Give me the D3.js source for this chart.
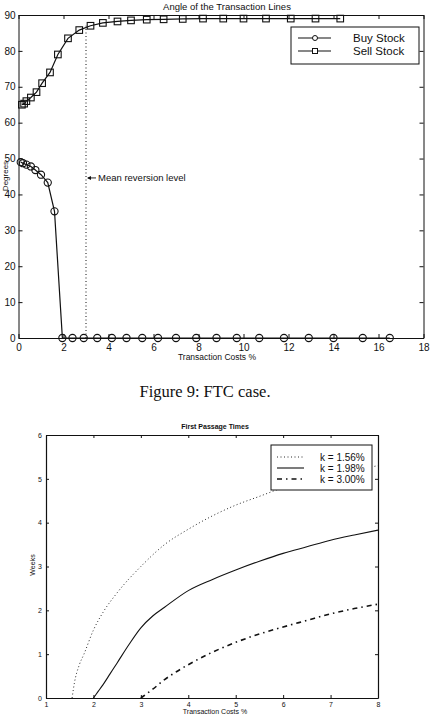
<!DOCTYPE html>
<html>
<head>
<meta charset="utf-8">
<script src="https://cdn.jsdelivr.net/npm/d3@7"></script>
<style>
  body { margin: 0; background: #fff; }
  svg { display: block; font-family: Arial, "Liberation Sans", sans-serif; }
  .axis path, .axis line { stroke: #111; }
  .axis text { fill: #111; }
</style>
</head>
<body>
<svg id="chart" width="431" height="717"></svg>
<script>
// ---- Figure 9 data (angle of transaction lines) ----
const buyX = [0.1, 0.2, 0.35, 0.55, 0.75, 1.0, 1.3, 1.6, 1.95, 2.4, 2.9, 3.5, 4.15, 4.8, 5.5, 6.2, 7.0, 7.9, 8.8, 9.7, 10.7, 11.8, 12.9, 14.0, 15.3, 16.5];
const buyY = [49, 48.7, 48.3, 47.8, 46.8, 45.5, 43.3, 35.3, 0, 0, 0, 0, 0, 0, 0, 0, 0, 0, 0, 0, 0, 0, 0, 0, 0, 0];
const sellX = [0.15, 0.25, 0.35, 0.55, 0.8, 1.05, 1.4, 1.75, 2.2, 2.7, 3.2, 3.75, 4.4, 5.0, 5.7, 6.45, 7.3, 8.2, 9.1, 10.0, 11.0, 12.1, 13.2, 14.3];
const sellY = [65, 65.3, 66, 67, 68.5, 71, 74, 79, 83.5, 85.8, 87, 87.8, 88.2, 88.5, 88.7, 88.8, 88.9, 89, 89, 89, 89, 89, 89, 89];
const meanRevX = 3.0;
const meanRevTop = 87;
const annotY = 44.6;
const topXTicks = [0, 2, 4, 6, 8, 10, 12, 14, 16, 18];
const topYTicks = [0, 10, 20, 30, 40, 50, 60, 70, 80, 90];

// ---- First passage times data ----
const fpX156 = [1.55, 1.6, 1.7, 1.8, 2.0, 2.2, 2.5, 3.0, 3.5, 4.0, 4.5, 5.0, 5.5, 6.0, 6.5, 7.0, 7.5, 8.0];
const fpY156 = [0, 0.35, 0.75, 1.0, 1.55, 1.95, 2.4, 3.0, 3.5, 3.85, 4.15, 4.4, 4.6, 4.8, 4.95, 5.1, 5.2, 5.3];
const fpX198 = [2.0, 2.1, 2.2, 2.35, 2.5, 2.75, 3.0, 3.25, 3.5, 4.0, 4.5, 5.0, 5.5, 6.0, 6.5, 7.0, 7.5, 8.0];
const fpY198 = [0, 0.15, 0.3, 0.55, 0.8, 1.22, 1.6, 1.87, 2.07, 2.45, 2.7, 2.92, 3.12, 3.3, 3.45, 3.6, 3.72, 3.83];
const fpX300 = [3.0, 3.1, 3.25, 3.5, 3.75, 4.0, 4.5, 5.0, 5.5, 6.0, 6.5, 7.0, 7.5, 8.0];
const fpY300 = [0, 0.08, 0.2, 0.42, 0.6, 0.76, 1.04, 1.27, 1.46, 1.62, 1.77, 1.92, 2.04, 2.14];
const botXTicks = [1, 2, 3, 4, 5, 6, 7, 8];
const botYTicks = [0, 1, 2, 3, 4, 5, 6];
const fpLabels = ["k = 1.56%", "k = 1.98%", "k = 3.00%"];

const svg = d3.select("#chart");
const ink = "#111";

// ================= top chart =================
const t = { left: 18.5, right: 423.5, top: 15, bottom: 338 };
const x1 = d3.scaleLinear().domain([0, 18]).range([t.left, t.right]);
const y1 = d3.scaleLinear().domain([0, 90]).range([t.bottom, t.top]);

const g1 = svg.append("g");

g1.append("g").attr("class", "axis")
  .attr("transform", `translate(0,${t.bottom})`)
  .call(d3.axisBottom(x1).tickValues(topXTicks).tickSize(-4).tickPadding(6).tickSizeOuter(0))
  .call(g => g.selectAll("text").attr("font-size", 10));
g1.append("g").attr("class", "axis")
  .attr("transform", `translate(0,${t.top})`)
  .call(d3.axisTop(x1).tickValues(topXTicks).tickSize(-4).tickFormat("").tickSizeOuter(0));
g1.append("g").attr("class", "axis")
  .attr("transform", `translate(${t.left},0)`)
  .call(d3.axisLeft(y1).tickValues(topYTicks).tickSize(-4).tickPadding(3).tickSizeOuter(0))
  .call(g => g.selectAll("text").attr("font-size", 10));
g1.append("g").attr("class", "axis")
  .attr("transform", `translate(${t.right},0)`)
  .call(d3.axisRight(y1).tickValues(topYTicks).tickSize(-4).tickFormat("").tickSizeOuter(0));

// mean reversion level
g1.append("line")
  .attr("x1", x1(meanRevX)).attr("x2", x1(meanRevX))
  .attr("y1", y1(0)).attr("y2", y1(meanRevTop))
  .attr("stroke", ink).attr("stroke-width", 1)
  .attr("stroke-dasharray", "1,2.5");

const line1 = d3.line().x(d => x1(d[0])).y(d => y1(d[1]));
const buy = buyX.map((v, i) => [v, buyY[i]]);
const sell = sellX.map((v, i) => [v, sellY[i]]);

g1.append("path").attr("d", line1(buy)).attr("fill", "none").attr("stroke", ink).attr("stroke-width", 1.2);
g1.append("path").attr("d", line1(sell)).attr("fill", "none").attr("stroke", ink).attr("stroke-width", 1.2);

g1.selectAll("circle.buy").data(buy).enter().append("circle")
  .attr("class", "buy")
  .attr("cx", d => x1(d[0])).attr("cy", d => y1(d[1])).attr("r", 3.6)
  .attr("fill", "none").attr("stroke", ink).attr("stroke-width", 1.1);
g1.selectAll("rect.sell").data(sell).enter().append("rect")
  .attr("class", "sell")
  .attr("x", d => x1(d[0]) - 3.3).attr("y", d => y1(d[1]) - 3.3)
  .attr("width", 6.6).attr("height", 6.6)
  .attr("fill", "none").attr("stroke", ink).attr("stroke-width", 1.1);

// annotation arrow
const ax = x1(meanRevX) + 1, ay = y1(annotY);
g1.append("line").attr("x1", ax + 1).attr("x2", ax + 9).attr("y1", ay).attr("y2", ay)
  .attr("stroke", ink).attr("stroke-width", 0.9);
g1.append("path").attr("d", `M${ax},${ay} l4,-2 l0,4 z`).attr("fill", ink);
g1.append("text").attr("x", ax + 11).attr("y", ay + 3.5)
  .attr("font-size", 9.5).attr("fill", ink).text("Mean reversion level");

// titles
g1.append("text").attr("x", 227).attr("y", 10).attr("text-anchor", "middle")
  .attr("font-size", 9.5).attr("fill", ink).text("Angle of the Transaction Lines");
g1.append("text").attr("x", 217).attr("y", 360).attr("text-anchor", "middle")
  .attr("font-size", 8.5).attr("fill", ink).text("Transaction Costs %");
g1.append("text").attr("transform", `translate(8,176) rotate(-90)`).attr("text-anchor", "middle")
  .attr("font-size", 8).attr("fill", ink).text("Degrees");

// legend
const lg = g1.append("g");
lg.append("rect").attr("x", 291).attr("y", 27).attr("width", 128).attr("height", 37)
  .attr("fill", "#fff").attr("stroke", ink).attr("stroke-width", 1);
const legRows = [{ name: "Buy Stock", y: 39, shape: "circle" }, { name: "Sell Stock", y: 52, shape: "square" }];
legRows.forEach(r => {
  lg.append("line").attr("x1", 298).attr("x2", 331).attr("y1", r.y - 1).attr("y2", r.y - 1)
    .attr("stroke", ink).attr("stroke-width", 1.1);
  if (r.shape === "circle") {
    lg.append("circle").attr("cx", 315).attr("cy", r.y - 1).attr("r", 2.5)
      .attr("fill", "#fff").attr("stroke", ink);
  } else {
    lg.append("rect").attr("x", 312.5).attr("y", r.y - 3.5).attr("width", 5).attr("height", 5)
      .attr("fill", "#fff").attr("stroke", ink);
  }
  lg.append("text").attr("x", 353).attr("y", r.y + 3).attr("font-size", 11.5).attr("fill", ink).text(r.name);
});

// caption
svg.append("text").attr("x", 205).attr("y", 397).attr("text-anchor", "middle")
  .attr("font-family", "'Liberation Serif', 'DejaVu Serif', serif")
  .attr("font-size", 16.5).attr("fill", ink).text("Figure 9: FTC case.");

// ================= bottom chart =================
const b = { left: 46, right: 378, top: 435, bottom: 698 };
const x2 = d3.scaleLinear().domain([1, 8]).range([b.left, b.right]);
const y2 = d3.scaleLinear().domain([0, 6]).range([b.bottom, b.top]);
const g2 = svg.append("g");

g2.append("g").attr("class", "axis")
  .attr("transform", `translate(0,${b.bottom})`)
  .call(d3.axisBottom(x2).tickValues(botXTicks).tickFormat(d3.format("d")).tickSize(-3).tickPadding(4).tickSizeOuter(0))
  .call(g => g.selectAll("text").attr("font-size", 7));
g2.append("g").attr("class", "axis")
  .attr("transform", `translate(0,${b.top})`)
  .call(d3.axisTop(x2).tickValues(botXTicks).tickSize(-3).tickFormat("").tickSizeOuter(0));
g2.append("g").attr("class", "axis")
  .attr("transform", `translate(${b.left},0)`)
  .call(d3.axisLeft(y2).tickValues(botYTicks).tickFormat(d3.format("d")).tickSize(-3).tickPadding(4).tickSizeOuter(0))
  .call(g => g.selectAll("text").attr("font-size", 7));
g2.append("g").attr("class", "axis")
  .attr("transform", `translate(${b.right},0)`)
  .call(d3.axisRight(y2).tickValues(botYTicks).tickSize(-3).tickFormat("").tickSizeOuter(0));
g2.selectAll(".axis path").attr("stroke-width", 1.2);

const line2 = d3.line().curve(d3.curveMonotoneX).x(d => x2(d[0])).y(d => y2(d[1]));
const series = [
  { xs: fpX156, ys: fpY156, dash: "1,2.5", w: 0.9 },
  { xs: fpX198, ys: fpY198, dash: null, w: 1.1 },
  { xs: fpX300, ys: fpY300, dash: "5,4,1.5,4", w: 1.6 }
];
series.forEach(s => {
  g2.append("path").attr("d", line2(s.xs.map((v, i) => [v, s.ys[i]])))
    .attr("fill", "none").attr("stroke", ink).attr("stroke-width", s.w)
    .attr("stroke-dasharray", s.dash);
});

g2.append("text").attr("x", 215).attr("y", 429).attr("text-anchor", "middle")
  .attr("font-size", 7).attr("font-weight", "bold").attr("fill", ink).text("First Passage Times");
g2.append("text").attr("transform", `translate(35,565) rotate(-90)`).attr("text-anchor", "middle")
  .attr("font-size", 7).attr("fill", ink).text("Weeks");
g2.append("text").attr("x", 215).attr("y", 714).attr("text-anchor", "middle")
  .attr("font-size", 7).attr("fill", ink).text("Transaction Costs %");

const lg2 = g2.append("g");
lg2.append("rect").attr("x", 271).attr("y", 445).attr("width", 101).attr("height", 45)
  .attr("fill", "#fff").attr("stroke", ink).attr("stroke-width", 1);
series.forEach((s, i) => {
  const ry = 457 + i * 11;
  lg2.append("line").attr("x1", 277).attr("x2", 304).attr("y1", ry).attr("y2", ry)
    .attr("stroke", ink).attr("stroke-width", s.w).attr("stroke-dasharray", s.dash);
  lg2.append("text").attr("x", 320).attr("y", ry + 3.5).attr("font-size", 10).attr("fill", ink).text(fpLabels[i]);
});
</script>
</body>
</html>
